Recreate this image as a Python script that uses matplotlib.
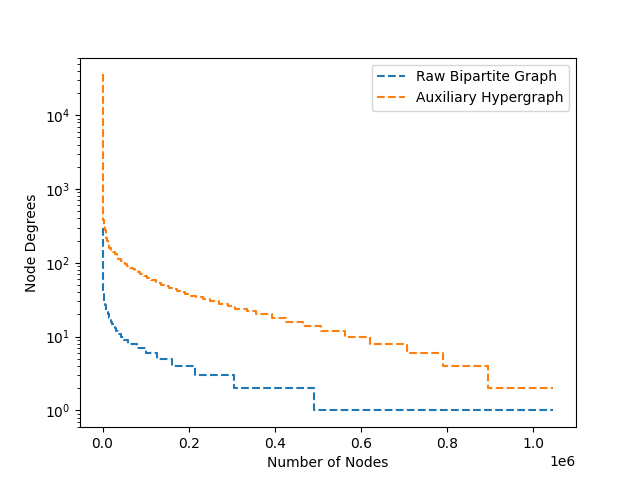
import numpy as np
import matplotlib
matplotlib.use("Agg")
import matplotlib.pyplot as plt

# Raw Bipartite Graph: degree levels and node index (x) where each level ends
blue_deg = [300, 200, 150, 100, 80, 60, 50, 40, 35, 30, 27, 25, 22, 20, 18, 17, 16, 15,
            14, 13, 12, 11, 10, 9, 8, 7, 6, 5, 4, 3, 2, 1]
blue_end = [0.0003e6, 0.0006e6, 0.0008e6, 0.0011e6, 0.0014e6, 0.0018e6, 0.0022e6,
            0.0030e6, 0.004e6, 0.0055e6, 0.007e6, 0.009e6, 0.012e6, 0.014e6, 0.017e6,
            0.019e6, 0.021e6, 0.024e6, 0.028e6, 0.032e6, 0.037e6, 0.043e6, 0.050e6,
            0.060e6, 0.079e6, 0.102e6, 0.126e6, 0.161e6, 0.215e6, 0.305e6, 0.492e6,
            1.047e6]

# Auxiliary Hypergraph
orange_deg = [35800, 10000, 3000, 1000, 600, 450, 380, 320, 280, 250, 220, 200, 180, 160,
              150, 140, 130, 120, 112, 106, 100, 96, 90, 86, 82, 78, 74, 70, 66, 62, 58,
              54, 50, 48, 46, 44, 42, 40, 38, 36, 34, 32, 30, 28, 26, 24, 22, 20, 18, 16,
              14, 12, 10, 8, 6, 4, 2]
orange_end = [0.0001e6, 0.0003e6, 0.0006e6, 0.0010e6, 0.0015e6, 0.002e6, 0.003e6,
              0.005e6, 0.007e6, 0.009e6, 0.011e6, 0.013e6, 0.016e6, 0.020e6, 0.024e6,
              0.028e6, 0.033e6, 0.037e6, 0.043e6, 0.048e6, 0.053e6, 0.057e6, 0.064e6,
              0.070e6, 0.076e6, 0.082e6, 0.088e6, 0.096e6, 0.104e6, 0.113e6, 0.124e6,
              0.136e6, 0.147e6, 0.155e6, 0.162e6, 0.172e6, 0.182e6, 0.192e6, 0.204e6,
              0.218e6, 0.233e6, 0.250e6, 0.270e6, 0.291e6, 0.307e6, 0.336e6, 0.356e6,
              0.393e6, 0.425e6, 0.465e6, 0.507e6, 0.563e6, 0.621e6, 0.707e6, 0.791e6,
              0.895e6, 1.047e6]

fig, ax = plt.subplots(figsize=(6.4, 4.8), dpi=100)

def steps(deg, end):
    x = np.concatenate([[0], end])
    y = np.concatenate([deg, [deg[-1]]])
    return x, y

bx, by = steps(blue_deg, blue_end)
ox, oy = steps(orange_deg, orange_end)
ax.plot(bx, by, '--', drawstyle='steps-post', label='Raw Bipartite Graph')
ax.plot(ox, oy, '--', drawstyle='steps-post', label='Auxiliary Hypergraph')
ax.set_yscale('log')
ax.set_xlabel('Number of Nodes')
ax.set_ylabel('Node Degrees')
ax.legend(loc='upper right')
fig.savefig('out.png')
